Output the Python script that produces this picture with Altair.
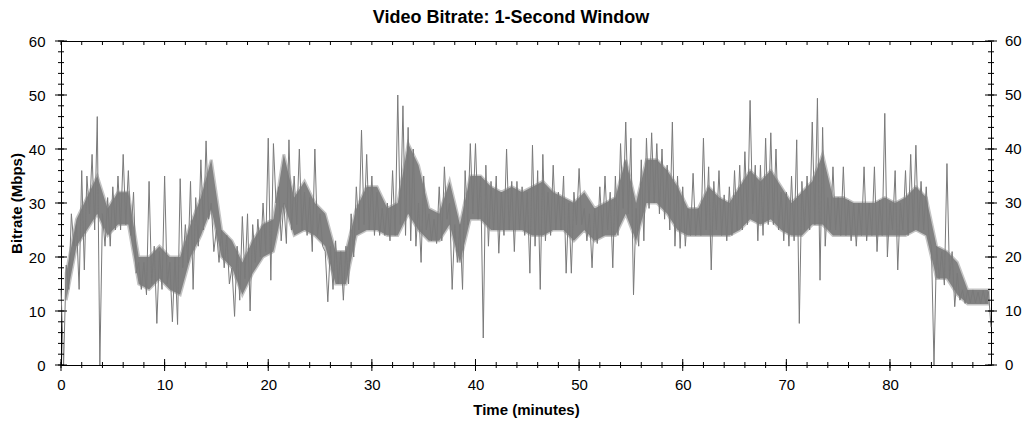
import altair as alt
import pandas as pd

# ---- data: per 0.5-minute bin, upper and lower extremes (Mbps)
STEP = 0.5
hi = [
    14, 18.5, 28, 26, 36, 35, 39, 46, 28, 31, 33, 35, 39, 36, 32, 19, 19, 34, 22, 21,
    35, 19, 20, 34.5, 26, 34, 31, 38, 41.5, 30, 25, 25, 24, 18, 22, 27.5, 28, 26, 27, 30,
    42, 41, 33, 30, 41.7, 35, 40, 32, 31, 40, 28, 21, 22, 23, 21, 22, 28, 33, 43.5, 39,
    35, 32, 29, 30, 36, 50, 48, 44, 40, 30, 35, 28, 27, 33, 36.7, 30, 26, 26, 36, 41,
    41, 35, 37, 34, 35, 32, 40, 34, 34, 33, 32, 40.7, 36, 39, 32, 37, 32, 35, 30, 32,
    36.4, 29, 28, 29, 33, 35, 32, 35, 41, 45, 42, 29, 38, 42, 43, 41, 40, 37, 45, 35,
    33, 29, 35.5, 29, 42, 36.7, 34, 36, 31.5, 33, 36, 37, 39.5, 49, 37, 37, 42, 43, 40, 32,
    32, 35, 41.7, 34, 35, 45, 49.4, 44, 31, 36.7, 31, 36.7, 30.5, 30, 30, 36.7, 30, 36.7, 30.5, 46.6,
    30, 36, 30, 36, 39, 40.7, 34, 33, 22, 22, 21, 37.3, 21, 17, 13.9, 13.8, 13.9, 13.5, 13.8, 13.6,
]
lo = [
    0, 14, 22, 14, 17.6, 28, 25, 0, 22, 22, 25, 25, 26, 24, 17, 14, 13, 15, 7.7, 14,
    15, 8, 7.5, 18, 19, 14, 22, 25, 27, 21, 19, 18, 15, 9, 12, 16, 10, 19, 20, 21,
    15.7, 30, 23, 22.5, 25, 26, 25, 24, 21, 24, 22, 11.7, 14, 15, 12, 15, 20, 25, 26, 25,
    24, 24, 24, 23, 24, 26, 24, 23, 22, 19, 25, 23, 22.5, 23, 27, 14, 19, 14, 26, 28,
    27, 5, 22, 25, 20.7, 24, 25, 21, 25, 24, 17, 22, 14, 23, 24, 25, 25, 17, 17, 26,
    26, 23, 18, 22.5, 24, 25, 18, 24, 29, 28, 13, 22, 23, 29, 30, 28, 27, 25, 22, 21.6,
    22, 24, 24, 24, 25, 17.6, 25, 24, 23, 24, 25, 25, 26, 28, 23, 24, 26, 26, 25, 23,
    22, 23, 7.7, 25, 25, 26, 15.7, 22, 25, 25, 24, 24, 23, 22, 24, 23, 24, 21, 24, 20,
    25, 17.6, 25, 24, 25, 25, 25, 24, 0, 16, 14.8, 16, 10.8, 12, 11.4, 11.5, 11.5, 11.3, 11.5, 7,
]

# ---- dense core band, per 1-minute bin (Mbps)
CORE_STEP = 1.0
core_lo = [
    12, 22, 25, 28, 24, 26, 26, 15, 14, 16, 14, 13, 20, 24, 29, 20, 18, 13, 17, 20,
    21, 30, 24, 25, 24, 22, 15, 15, 24, 25, 25, 24, 24, 28, 25, 23, 23, 26, 19, 27,
    27, 25, 25, 25, 25, 24, 24, 25, 25, 23, 25, 23, 24, 24, 28, 23, 30, 30, 28, 25,
    24, 24, 24, 24, 24, 25, 27, 26, 27, 25, 24, 24, 26, 26, 24, 24, 24, 24, 24, 24,
    24, 24, 25, 24, 16, 16, 13, 11.3, 11.3, 11.3,
]
core_hi = [
    17, 27, 31, 35, 29, 32, 32, 20, 20, 22, 20, 20, 26, 31, 38, 25, 23, 19, 23, 26,
    27, 39, 31, 34, 30, 28, 21, 21, 29, 33, 33, 29, 30, 41, 37, 29, 28, 34, 26, 35,
    35, 33, 32, 33, 32, 33, 34, 32, 31, 30, 32, 29, 30, 31, 38, 30, 38, 38, 36, 33,
    29, 29, 33, 31, 30, 33, 36, 34, 36, 33, 30, 32, 34, 39, 31, 31, 30, 30, 30, 31,
    30, 31, 33, 31, 22, 21, 19, 13.9, 13.9, 13.9,
]

x_major = [0, 10, 20, 30, 40, 50, 60, 70, 80]
x_minor = list(range(0, 90, 2))
y_major = [0, 10, 20, 30, 40, 50, 60]
y_minor = list(range(0, 61, 2))

TITLE = "Video Bitrate: 1-Second Window"
X_TITLE = "Time (minutes)"
Y_TITLE = "Bitrate (Mbps)"

# ---- styles / layout
W, H = 930, 324
FONT = "Liberation Sans"
DARK = "#7a7a7a"
CORE = "#818181"
LIGHT = "#c4c4c4"

t_hi = [i * STEP for i in range(len(hi))]
t_lo = [i * STEP + STEP / 2 for i in range(len(lo))]
trace = pd.DataFrame({
    "t": [v for pair in zip(t_hi, t_lo) for v in pair],
    "v": [v for pair in zip(hi, lo) for v in pair],
})
core = pd.DataFrame({"t": [i * CORE_STEP + CORE_STEP / 2 for i in range(len(core_lo))],
                     "lo": core_lo, "hi": core_hi})

xs = alt.Scale(domain=[0, 89.75], nice=False, zero=False)
ys = alt.Scale(domain=[0, 60], nice=False, zero=False)

axis_common = dict(
    labelFont=FONT, labelFontSize=15, labelColor="black",
    titleFont=FONT, titleFontSize=15, titleFontWeight="bold", titleColor="black",
    ticks=False, domain=False, grid=False,
    labelFlush=False, labelOverlap=False, format="d",
)
X_AX = alt.Axis(orient="bottom", values=x_major, title=X_TITLE,
                labelPadding=12, titlePadding=10, **axis_common)
Y_AX = alt.Axis(orient="left", values=y_major, title=Y_TITLE,
                labelPadding=16, titlePadding=4, **axis_common)


def X(field):
    return alt.X(field, scale=xs, axis=X_AX)


def Y(field):
    return alt.Y(field, scale=ys, axis=Y_AX)


# light haze around the dense band
haze = alt.Chart(core).mark_area(color=LIGHT, stroke=LIGHT, strokeWidth=3,
                                 interpolate="linear").encode(
    x=X("t:Q"), y=Y("lo:Q"), y2="hi:Q")

# dense dark band
core_area = alt.Chart(core).mark_area(color=CORE, interpolate="linear").encode(
    x=X("t:Q"), y=Y("lo:Q"), y2="hi:Q")

# spikes / fast variation
line = alt.Chart(trace).mark_line(color=DARK, strokeWidth=1).encode(
    x=X("t:Q"), y=Y("v:Q"))

right_labels = alt.Chart(pd.DataFrame({"v": y_major})).mark_text(
    font=FONT, fontSize=15, color="black", align="left", baseline="middle", dx=14
).encode(y=Y("v:Q"), x=alt.value(W), text=alt.Text("v:Q", format="d"))


def yticks(vals, x0, x1):
    return alt.Chart(pd.DataFrame({"v": vals})).mark_rule(color="black", strokeWidth=1).encode(
        y=Y("v:Q"), x=alt.value(x0), x2=alt.value(x1))


def xticks(vals, y0, y1):
    return alt.Chart(pd.DataFrame({"v": vals})).mark_rule(color="black", strokeWidth=1).encode(
        x=X("v:Q"), y=alt.value(y0), y2=alt.value(y1))


layers = [
    haze, core_area, line, right_labels,
    yticks(y_major, -6, 6), yticks(y_minor, -3, 3),
    yticks(y_major, W - 6, W + 6), yticks(y_minor, W - 3, W + 3),
    xticks(x_major, H - 6, H + 6), xticks(x_minor, H - 3, H + 3),
    xticks(x_minor, 0, 4),
]

chart = alt.layer(*layers).properties(
    width=W, height=H,
    title=alt.TitleParams(TITLE, font=FONT, fontSize=18, fontWeight="bold", color="black",
                          anchor="middle", frame="group", offset=7, dx=-15),
    autosize=alt.AutoSizeParams(type="none"),
    padding={"left": 53, "top": 33, "right": 32, "bottom": 56},
).configure_view(stroke="black", strokeWidth=1)

chart.save("out.html", embed_options={"renderer": "svg", "actions": False})
